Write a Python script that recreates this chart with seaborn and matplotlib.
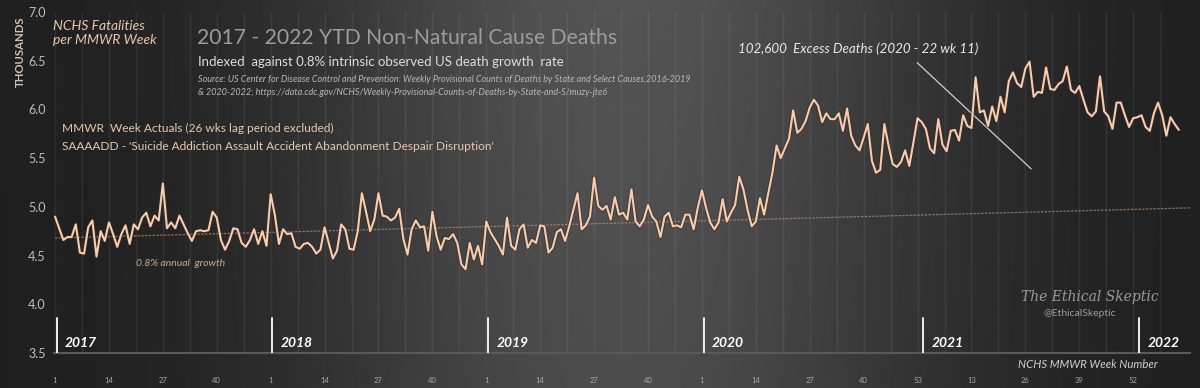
import numpy as np
import matplotlib.pyplot as plt
import matplotlib.patheffects as pe
import seaborn as sns
import pandas as pd

# ------------------------------------------ Data (thousands of deaths per MMWR week) ------------------------------------------ #
deaths_2017 = [4.90, 4.78, 4.66, 4.69, 4.69, 4.82, 4.53, 4.52, 4.79, 4.86, 4.49, 4.75, 4.65,
               4.84, 4.72, 4.59, 4.72, 4.81, 4.62, 4.82, 4.77, 4.89, 4.94, 4.80, 4.91, 4.86,
               5.24, 4.78, 4.84, 4.78, 4.91, 4.82, 4.73, 4.65, 4.75, 4.76, 4.75, 4.76, 4.95,
               4.89, 4.66, 4.56, 4.65, 4.78, 4.77, 4.63, 4.59, 4.66, 4.77, 4.62, 4.75, 4.60]
deaths_2018 = [5.13, 4.92, 4.62, 4.77, 4.72, 4.73, 4.59, 4.57, 4.62, 4.63, 4.59, 4.52, 4.56,
               4.79, 4.63, 4.47, 4.55, 4.82, 4.77, 4.57, 4.56, 4.75, 5.14, 4.95, 4.75, 4.87,
               5.14, 4.91, 4.90, 4.86, 4.89, 4.98, 4.67, 4.51, 4.77, 4.86, 4.79, 4.80, 4.55,
               4.95, 4.70, 4.56, 4.68, 4.67, 4.72, 4.63, 4.41, 4.36, 4.63, 4.46, 4.60, 4.41]
deaths_2019 = [4.85, 4.74, 4.67, 4.60, 4.51, 4.89, 4.60, 4.56, 4.77, 4.82, 4.58, 4.66, 4.63,
               4.81, 4.80, 4.53, 4.58, 4.74, 4.77, 4.65, 4.80, 4.97, 5.14, 4.77, 4.81, 4.90,
               5.30, 5.01, 4.97, 5.01, 4.87, 5.10, 4.92, 4.94, 4.87, 5.18, 4.85, 4.80, 4.87,
               5.02, 4.90, 4.85, 4.69, 4.90, 4.94, 4.80, 4.81, 4.79, 4.92, 4.92, 4.77, 4.99]
deaths_2020 = [5.17, 4.99, 4.84, 4.77, 4.84, 5.08, 4.85, 4.94, 5.02, 5.31, 5.18, 4.97, 4.80,
               4.85, 5.09, 4.92, 5.14, 5.35, 5.63, 5.50, 5.60, 5.70, 5.99, 5.76, 5.80, 5.88,
               6.02, 6.10, 6.04, 5.87, 5.96, 5.90, 5.90, 5.96, 5.78, 6.01, 5.73, 5.63, 5.58,
               5.71, 5.85, 5.47, 5.35, 5.38, 5.85, 5.63, 5.44, 5.41, 5.46, 5.58, 5.42, 5.66,
               5.91]
deaths_2021 = [5.87, 5.80, 5.60, 5.55, 5.90, 5.64, 5.57, 5.78, 5.79, 5.68, 5.94, 5.83, 5.81,
               6.33, 5.97, 5.99, 5.83, 6.03, 5.88, 6.13, 5.97, 6.29, 6.38, 6.27, 6.23, 6.42,
               6.49, 6.13, 6.18, 6.17, 6.43, 6.21, 6.20, 6.26, 6.29, 6.44, 6.20, 6.17, 6.24,
               6.10, 5.97, 5.93, 5.98, 6.34, 5.98, 5.93, 5.80, 6.07, 6.07, 5.94, 5.82, 5.91]
deaths_2022 = [5.92, 5.94, 5.82, 5.78, 5.96, 6.07, 5.94, 5.73, 5.92, 5.85, 5.79]

years = ['2017', '2018', '2019', '2020', '2021', '2022']
series = [deaths_2017, deaths_2018, deaths_2019, deaths_2020, deaths_2021, deaths_2022]

# 0.8% annual growth trend line (start / end of the period)
trend_start, trend_end = 4.68, 4.99

# diagonal annotation line (week index, thousands)
excess_line_x = [207.9, 235.4]
excess_line_y = [6.48, 5.39]

# ------------------------------------------ Style ------------------------------------------ #
font_name = 'Lato'
peach = '#f6cdb0'
tan = '#e6c8aa'
W, H = 1200, 388

rows = []
for yr, vals in zip(years, series):
    for wk, v in enumerate(vals, start=1):
        rows.append({'Year': yr, 'Week': wk, 'Deaths': v})
df = pd.DataFrame(rows)
df['Idx'] = np.arange(len(df))
n = len(df)

sns.set_style('white')
plt.rcParams['font.family'] = [font_name, 'DejaVu Sans']

fig = plt.figure(figsize=(W / 100, H / 100), dpi=100)

# background gradient
bg = fig.add_axes([0, 0, 1, 1], zorder=-10)
gx = np.linspace(0, 1, 600)
gy = np.linspace(0, 1, 200)
GX, GY = np.meshgrid(gx, gy)
shade = 0.12 + 0.21 * np.exp(-((GX - 0.52) / 0.27) ** 2) * (0.85 + 0.15 * GY)
bg.imshow(shade, cmap='gray', vmin=0, vmax=1, aspect='auto', extent=[0, 1, 0, 1], origin='lower')
bg.axis('off')

ax = fig.add_axes([54 / W, 1 - 353 / H, 1136 / W, 341 / H])
ax.set_facecolor('none')

# trend line
ax.plot([0, n + 2], [trend_start, trend_end], color='#b89070', lw=0.9, ls=(0, (2, 1)), alpha=0.7, zorder=2)

sns.lineplot(data=df, x='Idx', y='Deaths', ax=ax, color=peach, linewidth=1.5, zorder=4)
ax.lines[-1].set_path_effects([pe.Stroke(linewidth=3.0, foreground='#3a2a22', alpha=0.5), pe.Normal()])

ax.plot(excess_line_x, excess_line_y, color='#d0d0d0', lw=0.9, zorder=3)

ax.set_xlim(-0.25, 273.7)
ax.set_ylim(3.5, 7.0)

# x ticks every 13 weeks, labelled with the week of the year
tick_idx = np.arange(0, n, 13)
ax.set_xticks(tick_idx)
ax.set_xticklabels([str(w) for w in df['Week'].iloc[tick_idx]])
ax.set_xticks(np.arange(6.5, n + 3, 13), minor=True)
ax.tick_params(axis='x', which='both', length=0, pad=17, labelsize=5.5, labelcolor='#a8a8a8')
ax.set_yticks(np.arange(3.5, 7.01, 0.5))
ax.set_yticklabels([f'{v:.1f}' for v in np.arange(3.5, 7.01, 0.5)])
ax.tick_params(axis='y', length=0, pad=6, labelsize=9, labelcolor='#bdbdbd')
ax.grid(True, axis='x', which='both', color='white', alpha=0.07, lw=1)
ax.grid(False, axis='y')
for s in ['top', 'right', 'left']:
    ax.spines[s].set_visible(False)
ax.spines['bottom'].set_color('#5a5a5a')
ax.spines['bottom'].set_linewidth(1.5)
ax.set_xlabel('')
ax.set_ylabel('')

# year markers
starts = df.groupby('Year')['Idx'].min()
for yr in years:
    x0 = starts[yr] + 0.4
    ax.plot([x0, x0], [3.5, 3.86], color='#eeeeee', lw=1.4, zorder=5)
    ax.text(x0 + 2, 3.6, yr, color='white', fontsize=10, fontweight='bold', style='italic',
            va='center', ha='left')


def ftext(x, y, s, **kw):
    fig.text(x / W, 1 - y / H, s, **kw)


ftext(20, 52, 'THOUSANDS', rotation=90, color='#d0c0b0', fontsize=8.2, fontweight='bold', ha='center', va='center')
ftext(53, 33, 'NCHS Fatalities\nper MMWR Week', color=tan, fontsize=10, style='italic', ha='left', va='center',
      linespacing=1.3)
ftext(197, 38, '2017 - 2022 YTD Non-Natural Cause Deaths', color='#9c9c9c', fontsize=15.2, ha='left', va='center')
ftext(198, 62, 'Indexed  against 0.8% intrinsic observed US death growth  rate', color='#e4dcd4', fontsize=9.5,
      ha='left', va='center')
ftext(198, 86, 'Source: US Center for Disease Control and Prevention: Weekly Provisional Counts of Deaths by State '
      'and Select Causes,2016-2019\n& 2020-2022; https://data.cdc.gov/NCHS/Weekly-Provisional-Counts-of-Deaths-'
      'by-State-and-S/muzy-jte6', color='#b8b8b8', fontsize=6.5, style='italic', ha='left', va='center',
      linespacing=1.45)
ftext(62, 128, 'MMWR  Week Actuals (26 wks lag period excluded)', color=tan, fontsize=8.6, ha='left', va='center')
ftext(62, 147, "SAAAADD - 'Suicide Addiction Assault Accident Abandonment Despair Disruption'", color=tan,
      fontsize=8.6, ha='left', va='center')
ftext(738, 49, '102,600  Excess Deaths (2020 - 22 wk 11)', color='#e8e8e8', fontsize=9.6, style='italic',
      ha='left', va='center')
ftext(136, 264, '0.8% annual  growth', color='#c8a88c', fontsize=7.5, style='italic', ha='left', va='center')
ftext(1090, 297, 'The Ethical Skeptic', color='#9a9a9a', fontsize=10, style='italic', family='DejaVu Serif',
      ha='center', va='center')
ftext(1080, 313, '@EthicalSkeptic', color='#9a9a9a', fontsize=7.5, ha='center', va='center')
ftext(1158, 364, 'NCHS MMWR Week Number', color='#d0d0d0', fontsize=8.2, style='italic', ha='right', va='center')

fig.savefig('out.png', dpi=100)
